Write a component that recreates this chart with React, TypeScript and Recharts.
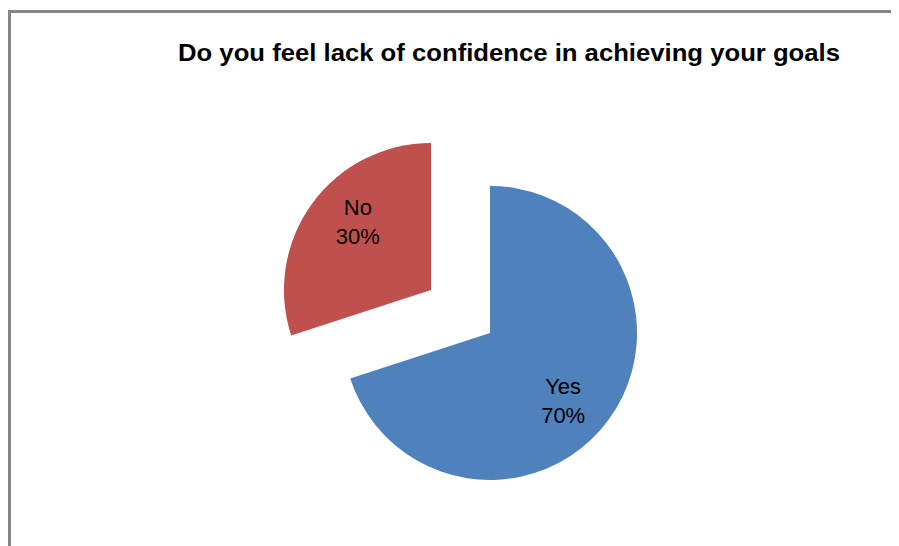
import { PieChart, Pie, Cell } from "recharts";

const categories = ["Yes", "No"];
const shares = [70, 30];
const sliceColors = ["#4F81BD", "#C0504D"];

const title = "Do you feel lack of confidence in achieving your goals";

const data = categories.map((name, i) => ({ name, value: shares[i] }));

const RAD = Math.PI / 180;
const baseX = 452.5;
const baseY = 303.5;
const explode = 36.5;
const radius = 147;
const total = shares.reduce((a, b) => a + b, 0);

// mid angle of each slice (clockwise from 12 o'clock)
const midAngles: number[] = [];
let acc = 90;
shares.forEach((v) => {
  const sweep = (v / total) * 360;
  midAngles.push(acc - sweep / 2);
  acc -= sweep;
});

const renderLabel = (only: number) => (props: any) => {
  const { cx, cy, midAngle, index, name, percent } = props;
  if (index !== only) return null;
  const r = 100;
  const a = midAngle - 7;
  const x = cx + r * Math.cos(-a * RAD);
  const y = cy + r * Math.sin(-a * RAD);
  return (
    <text
      x={x}
      y={y}
      textAnchor="middle"
      fontFamily="Liberation Sans, Arial, sans-serif"
      fontSize={22}
      fill="#000"
    >
      <tspan x={x} y={y - 7}>
        {name}
      </tspan>
      <tspan x={x} y={y + 22}>
        {`${Math.round(percent * 100)}%`}
      </tspan>
    </text>
  );
};

export default function App() {
  return (
    <div style={{ position: "relative", width: 891, height: 538, overflow: "hidden", background: "#fff" }}>
      <div
        style={{
          position: "absolute",
          left: 0,
          top: 2,
          width: 1000,
          height: 1000,
          border: "3px solid #868686",
        }}
      />
      <svg width={891} height={80} style={{ position: "absolute", left: 0, top: 0 }}>
        <text
          x={501}
          y={53}
          textAnchor="middle"
          fontFamily="Liberation Sans, Arial, sans-serif"
          fontWeight="bold"
          fontSize={24}
          textLength={662}
          lengthAdjust="spacingAndGlyphs"
          fill="#000"
        >
          {title}
        </text>
      </svg>
      <div style={{ position: "absolute", left: 0, top: 0 }}>
        <PieChart width={891} height={538} margin={{ top: 0, right: 0, bottom: 0, left: 0 }}>
          {data.map((d, i) => (
            <Pie
              key={d.name}
              data={data}
              dataKey="value"
              nameKey="name"
              cx={baseX + explode * Math.cos(-midAngles[i] * RAD)}
              cy={baseY + explode * Math.sin(-midAngles[i] * RAD)}
              outerRadius={radius}
              startAngle={90}
              endAngle={-270}
              stroke="none"
              labelLine={false}
              label={renderLabel(i)}
              isAnimationActive={false}
            >
              {data.map((_, j) => (
                <Cell key={j} fill={j === i ? sliceColors[j] : "none"} />
              ))}
            </Pie>
          ))}
        </PieChart>
      </div>
    </div>
  );
}
